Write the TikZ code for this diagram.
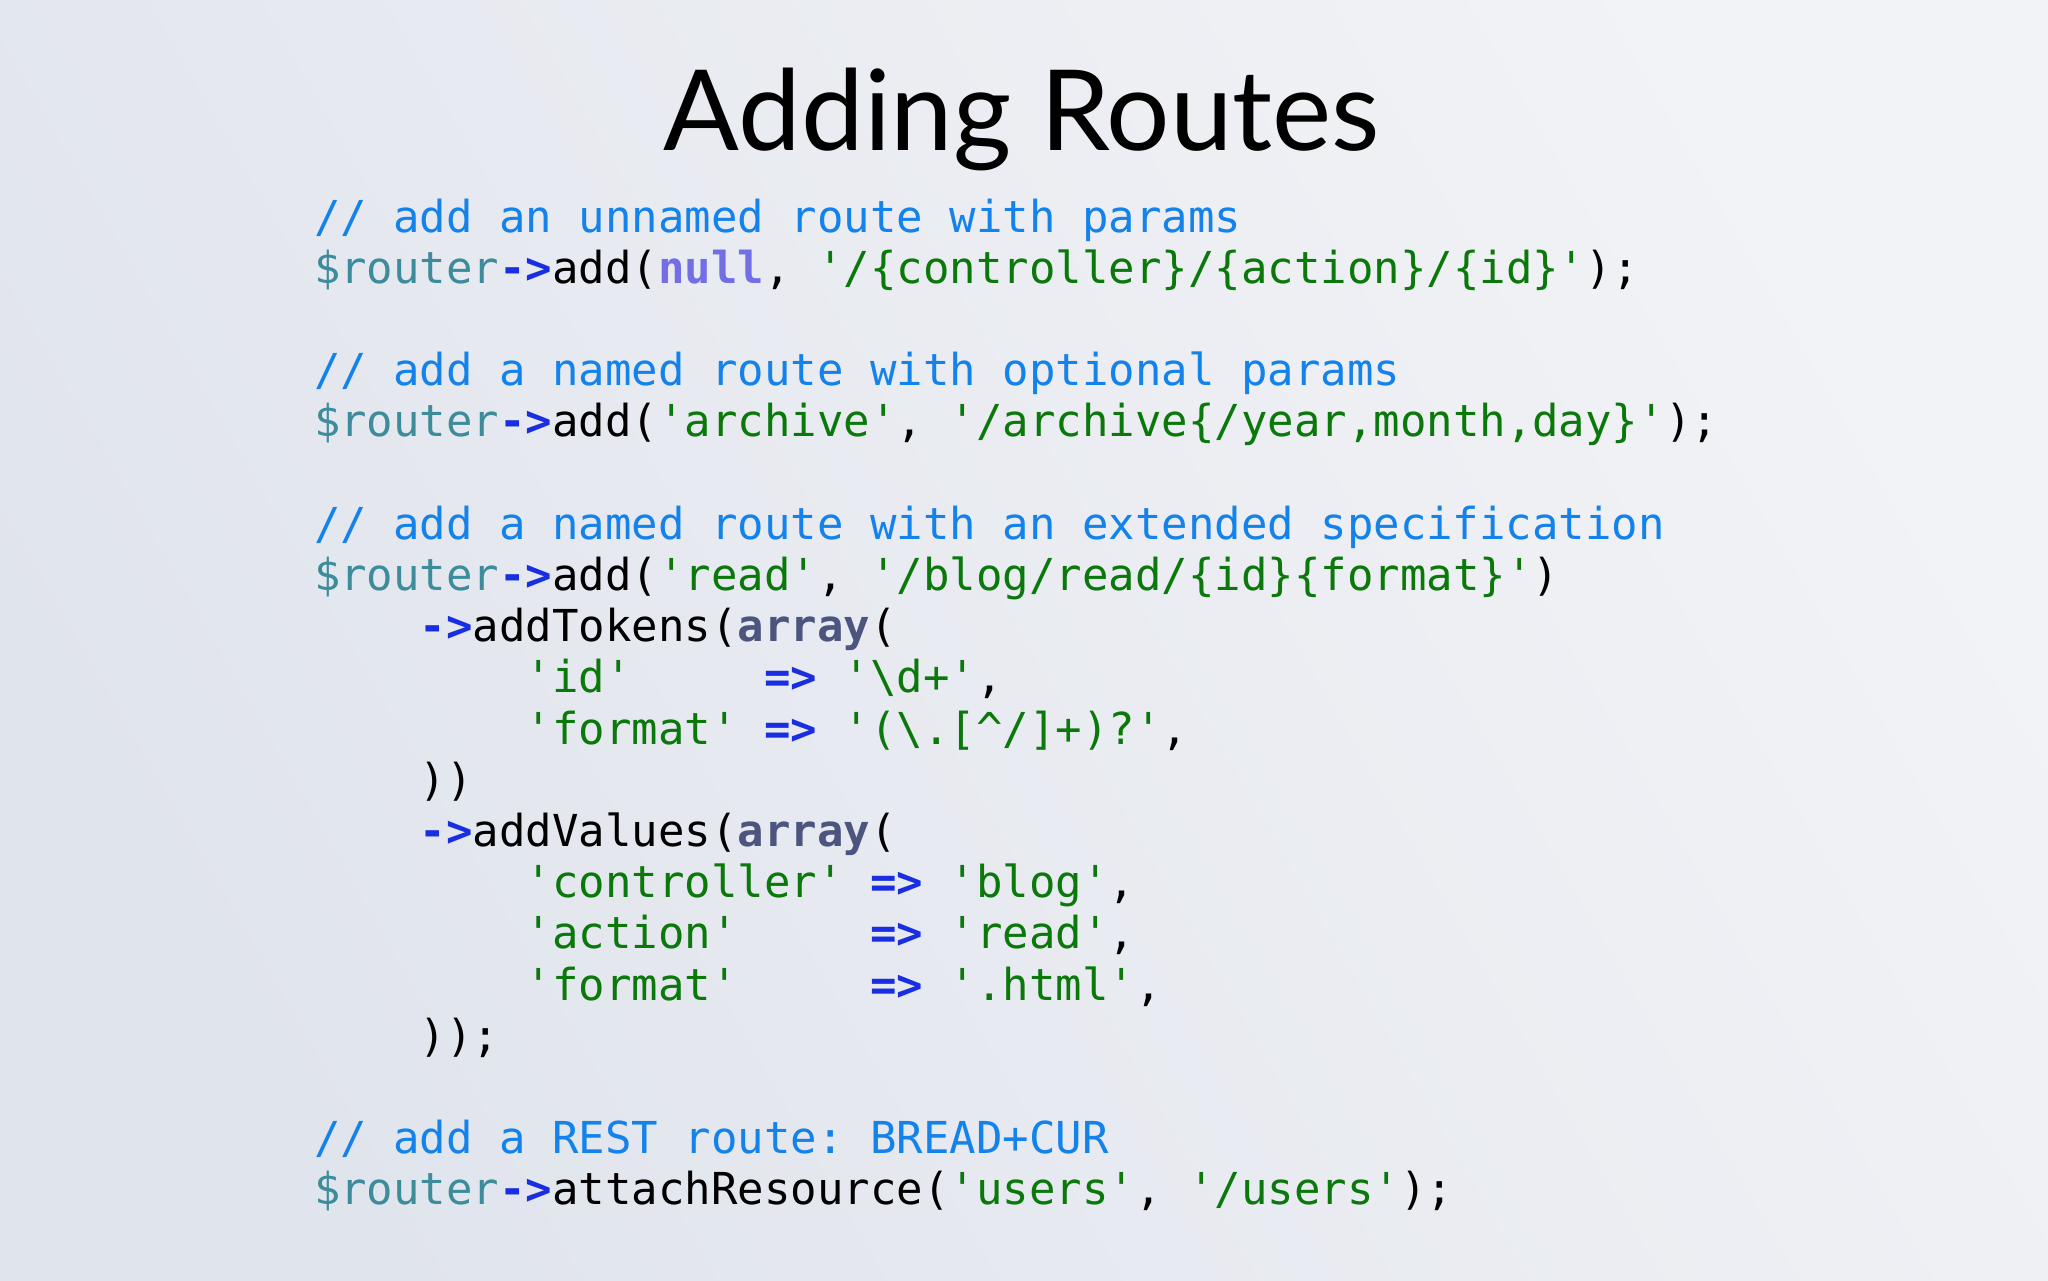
\documentclass[tikz,border=0pt]{standalone}
\usepackage{fontspec}
\setmainfont{Lato}
\setmonofont{DejaVu Sans Mono}
\definecolor{cmtc}{RGB}{20,130,235}
\definecolor{varc}{RGB}{60,140,155}
\definecolor{opc}{RGB}{25,45,225}
\definecolor{strc}{RGB}{10,120,10}
\definecolor{nullc}{RGB}{115,110,230}
\definecolor{arrc}{RGB}{75,85,125}
\definecolor{bgA}{RGB}{224,228,236}
\definecolor{bgB}{RGB}{242,243,246}
\newcommand{\cmt}[1]{\textcolor{cmtc}{#1}}
\newcommand{\rv}{\textcolor{varc}{\$router}}
\newcommand{\op}[1]{\textcolor{opc}{\bfseries #1}}
\newcommand{\cstr}[1]{\textcolor{strc}{#1}}
\newcommand{\kwd}[1]{\textcolor{nullc}{\bfseries #1}}
\newcommand{\arr}{\textcolor{arrc}{\bfseries array}}
\tikzset{codeln/.style={anchor=base west,inner sep=0pt,font=\ttfamily\fontsize{22}{25.6}\selectfont}}
\begin{document}
\begin{tikzpicture}[x=1pt,y=-1pt]
\useasboundingbox (0,0) rectangle (1024,640);
\shade[left color=bgA, right color=bgB, shading angle=120] (0,0) rectangle (1024,640);
\node[anchor=base,inner sep=0pt,font=\fontsize{56}{60}\selectfont] (title) at (511,75) {Adding Routes};
\def\L{156.8}
\def\B{116}
\def\D{25.6}
\foreach \n/\t in {
0/{\cmt{// add an unnamed route with params}},
1/{\rv\op{->}add(\kwd{null}, \cstr{'/\{controller\}/\{action\}/\{id\}'});},
3/{\cmt{// add a named route with optional params}},
4/{\rv\op{->}add(\cstr{'archive'}, \cstr{'/archive\{/year,month,day\}'});},
6/{\cmt{// add a named route with an extended specification}},
7/{\rv\op{->}add(\cstr{'read'}, \cstr{'/blog/read/\{id\}\{format\}'})},
8/{~~~~\op{->}addTokens(\arr(},
9/{~~~~~~~~\cstr{'id'}~~~~~\op{=>} \cstr{'\textbackslash d+'},},
10/{~~~~~~~~\cstr{'format'} \op{=>} \cstr{'(\textbackslash.[\textasciicircum/]+)?'},},
11/{~~~~))},
12/{~~~~\op{->}addValues(\arr(},
13/{~~~~~~~~\cstr{'controller'} \op{=>} \cstr{'blog'},},
14/{~~~~~~~~\cstr{'action'}~~~~~\op{=>} \cstr{'read'},},
15/{~~~~~~~~\cstr{'format'}~~~~~\op{=>} \cstr{'.html'},},
16/{~~~~));},
18/{\cmt{// add a REST route: BREAD+CUR}},
19/{\rv\op{->}attachResource(\cstr{'users'}, \cstr{'/users'});}
}{
\node[codeln] (l\n) at (\L,\B+\n*\D) {\t};
}
\end{tikzpicture}
\end{document}
